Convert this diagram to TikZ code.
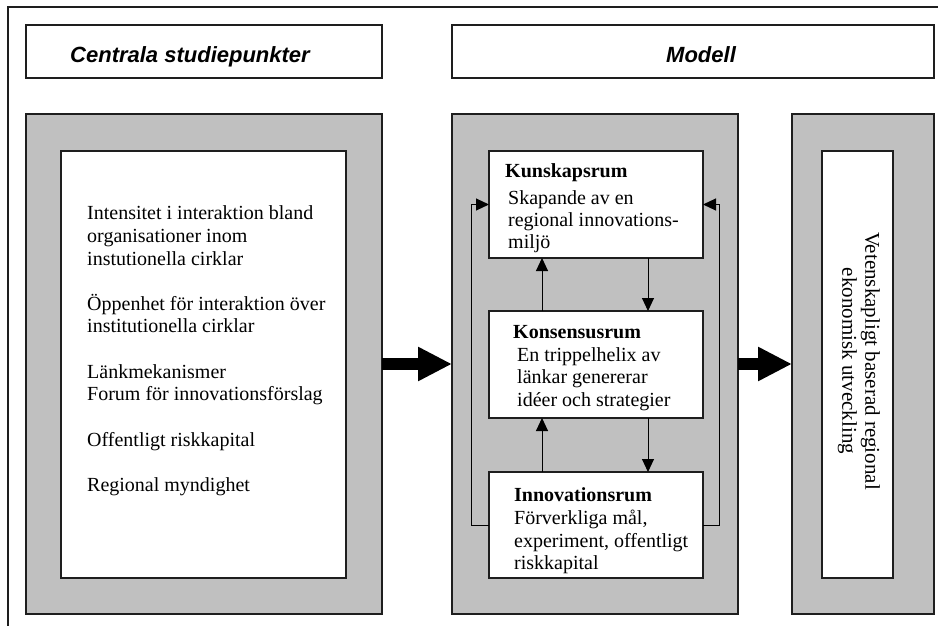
\documentclass[tikz,border=0pt]{standalone}
\usepackage{fontspec}
\setmainfont{Liberation Serif}
\newfontfamily\titlefont{Liberation Sans}
\usetikzlibrary{arrows.meta}
\definecolor{boxgray}{RGB}{192,192,192}
\definecolor{edge}{RGB}{30,30,30}
\tikzset{
  box/.style={draw=edge, line width=1.2pt, inner sep=0pt, outer sep=0pt},
  graybox/.style={box, fill=boxgray},
  whitebox/.style={box, fill=white},
  titletext/.style={anchor=base west, inner sep=0pt, font=\titlefont\bfseries\itshape\fontsize{22}{26}\selectfont},
  txt/.style={anchor=base west, inner sep=0pt, font=\fontsize{20}{23}\selectfont},
  btxt/.style={txt, font=\bfseries\fontsize{20}{23}\selectfont},
  arr/.style={draw=black, line width=1pt, -{Triangle[length=13pt,width=12pt]}},
  bigarr/.style={draw=black, line width=12pt, -{Triangle[length=34pt,width=32pt]}},
  frame/.style={draw=edge, line width=1.2pt}
}
\begin{document}
\begin{tikzpicture}[x=1pt,y=-1pt]
\useasboundingbox (0,0) rectangle (938,626);
\draw[frame] (8,626) -- (8,7) -- (938,7);
% title boxes
\node[whitebox, minimum width=356pt, minimum height=53pt] (t1) at (204,51.5) {};
\node[whitebox, minimum width=482pt, minimum height=53pt] (t2) at (693,51.5) {};
\node[titletext] (tt1) at (70,63) {Centrala studiepunkter};
\node[titletext] (tt2) at (666,63) {Modell};
% gray boxes
\node[graybox, minimum width=356pt, minimum height=500pt] (g1) at (204,364) {};
\node[graybox, minimum width=286pt, minimum height=500pt] (g2) at (595,364) {};
\node[graybox, minimum width=142pt, minimum height=500pt] (g3) at (863,364) {};
% inner white boxes
\node[whitebox, minimum width=285pt, minimum height=427pt] (w1) at (203.5,364.5) {};
\node[whitebox, minimum width=71pt, minimum height=427pt] (w3) at (857.5,364.5) {};
\node[whitebox, minimum width=214pt, minimum height=107pt] (kun) at (596,204.5) {};
\node[whitebox, minimum width=214pt, minimum height=107pt] (kon) at (596,364.5) {};
\node[whitebox, minimum width=214pt, minimum height=106pt] (inno) at (596,525) {};
% left text
\node[txt] (l1) at (87,219) {Intensitet i interaktion bland};
\node[txt] (l2) at (87,242) {organisationer inom};
\node[txt] (l3) at (87,265) {instutionella cirklar};
\node[txt] (l4) at (87,310) {Öppenhet för interaktion över};
\node[txt] (l5) at (87,332) {institutionella cirklar};
\node[txt] (l6) at (87,378) {Länkmekanismer};
\node[txt] (l7) at (87,400) {Forum för innovationsförslag};
\node[txt] (l8) at (87,446) {Offentligt riskkapital};
\node[txt] (l9) at (87,491) {Regional myndighet};
% model texts
\node[btxt] (k1) at (505,177) {Kunskapsrum};
\node[txt] (k2) at (508,204) {Skapande av en};
\node[txt] (k3) at (508,226) {regional innovations-};
\node[txt] (k4) at (508,248) {miljö};
\node[btxt] (c1) at (513,338) {Konsensusrum};
\node[txt] (c2) at (517,361) {En trippelhelix av};
\node[txt] (c3) at (517,383) {länkar genererar};
\node[txt] (c4) at (517,406) {idéer och strategier};
\node[btxt] (i1) at (514,501) {Innovationsrum};
\node[txt] (i2) at (514,524) {Förverkliga mål,};
\node[txt] (i3) at (514,547) {experiment, offentligt};
\node[txt] (i4) at (514,569) {riskkapital};
% rotated text
\node[rotate=-90, align=center, inner sep=0pt, font=\fontsize{21}{23}\selectfont] (vt) at (859,361) {Vetenskapligt baserad regional\\ekonomisk utveckling};
% arrows inside model
\draw[arr] ([xshift=53pt]kon.north west) -- ([xshift=53pt]kun.south west);
\draw[arr] ([xshift=159pt]kun.south west) -- ([xshift=159pt]kon.north west);
\draw[arr] ([xshift=53pt]inno.north west) -- ([xshift=53pt]kon.south west);
\draw[arr] ([xshift=159pt]kon.south west) -- ([xshift=159pt]inno.north west);
\draw[arr] (inno.west) -- ++(-18,0) |- (kun.west);
\draw[arr] (inno.east) -- ++(16,0) |- (kun.east);
% big arrows
\draw[bigarr] (g1.east) -- (g2.west);
\draw[bigarr] (g2.east) -- (g3.west);
\end{tikzpicture}
\end{document}
